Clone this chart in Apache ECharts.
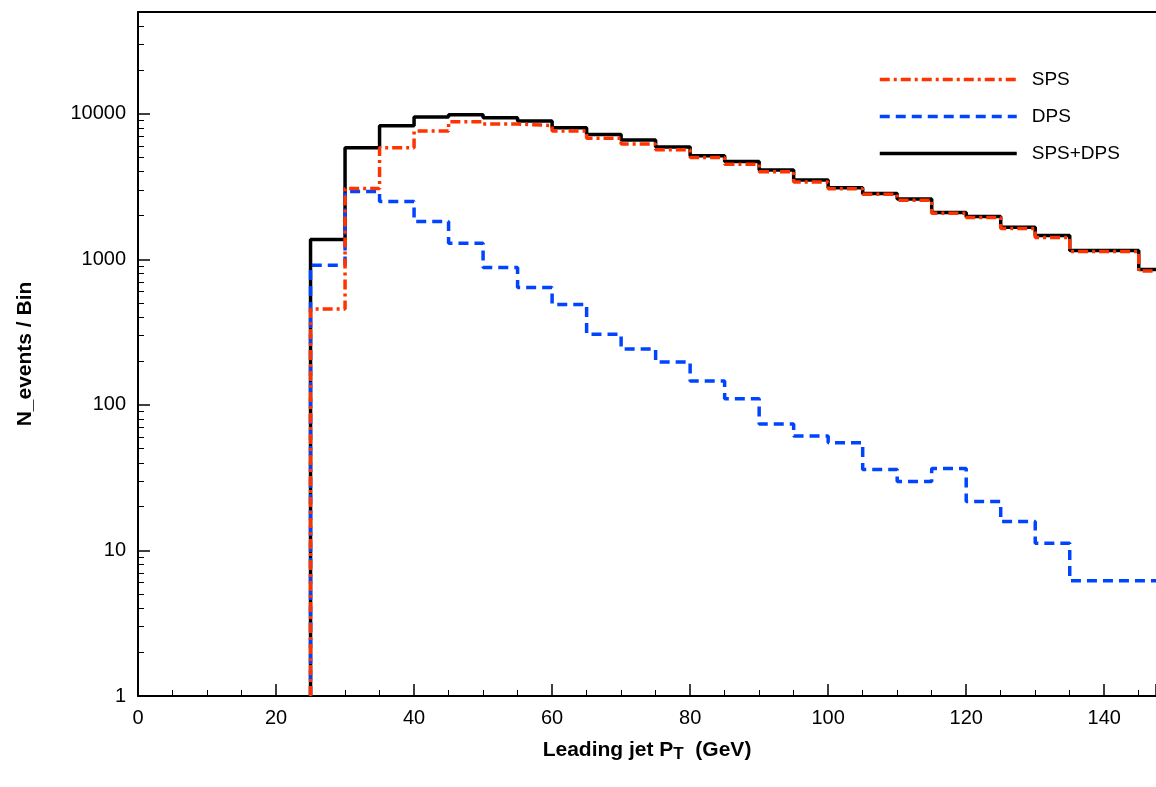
<!DOCTYPE html>
<html><head><meta charset="utf-8">
<script src="https://cdn.jsdelivr.net/npm/echarts@6/dist/echarts.min.js"></script>
<style>html,body{margin:0;background:#fff}#c{width:1156px;height:787px}</style>
</head><body><div id="c"></div>
<script>
// bin edges (GeV), width 5 from 25; last bin cut by the frame
const edges = [25,30,35,40,45,50,55,60,65,70,75,80,85,90,95,100,105,110,115,120,125,130,135,140,145,147.5]
const sps = [455,3060,5850,7600,8800,8500,8300,7600,6800,6200,5650,5000,4500,4000,3400,3050,2800,2550,2070,1940,1630,1410,1130,1130,830]
const dps = [910,2920,2500,1820,1290,880,640,490,306,242,197,146,110,74,61,55,36,29.7,36.5,21.7,15.8,11.2,6.2,6.2,6.2]
const total = [1370,5850,8270,9500,9850,9400,8900,8000,7200,6600,5900,5150,4700,4100,3500,3100,2830,2600,2100,1970,1660,1460,1150,1150,850]
const yTicks = [1,10,100,1000,10000]

function steps(vals){
    let pts=[[edges[0],1]]
    for (let i = 0; i < vals.length; i++) {
        pts.push([edges[i],vals[i]])
        pts.push([edges[i+1],vals[i]])
    }
    return pts
}
const font='Liberation Sans'
let chart=echarts.init(document.getElementById('c'))
chart.setOption({
    animation:false,
    textStyle:{fontFamily:font},
    grid:{left:138,right:0,top:12,bottom:91},
    legend:{
        left:873,top:65,orient:'vertical',itemWidth:137,itemHeight:14,itemGap:18,
        itemStyle:{opacity:0},lineStyle:{width:3.5},
        textStyle:{fontFamily:font,fontSize:19,color:'#000',padding:[0,0,0,10]},
        data:['SPS','DPS','SPS+DPS']
    },
    xAxis:[{
        type:'value',min:0,max:147.5,interval:20,
        name:'Leading jet P{s|T}  (GeV)',nameLocation:'middle',nameGap:42,
        nameTextStyle:{fontFamily:font,fontSize:21,fontWeight:'bold',color:'#000',rich:{s:{fontSize:17,fontWeight:'bold',verticalAlign:'bottom',padding:[8,0,0,0]}}},
        axisLine:{lineStyle:{color:'#000',width:2}},
        axisTick:{inside:true,length:12,lineStyle:{color:'#000',width:1.5}},
        minorTick:{show:true,splitNumber:4,length:6,lineStyle:{color:'#000'}},
        axisLabel:{fontSize:20,color:'#000',margin:12,showMaxLabel:false,formatter:v=>v%20===0?v:''},
        splitLine:{show:false}
    },{
        type:'value',position:'top',min:0,max:147.5,
        axisLine:{lineStyle:{color:'#000',width:2}},axisTick:{show:false},axisLabel:{show:false},splitLine:{show:false}
    }],
    yAxis:{
        type:'log',min:1,max:50000,logBase:10,
        name:'N_events / Bin',nameLocation:'middle',nameGap:102,
        nameTextStyle:{fontFamily:font,fontSize:21,fontWeight:'bold',color:'#000'},
        axisLine:{lineStyle:{color:'#000',width:2}},
        axisTick:{inside:true,length:12,lineStyle:{color:'#000',width:1.5}},
        minorTick:{show:true,splitNumber:9,length:6,lineStyle:{color:'#000'}},
        axisLabel:{fontSize:20,color:'#000',margin:12,formatter:v=>yTicks.includes(Math.round(v))?String(Math.round(v)):''},
        splitLine:{show:false}
    },
    series:[
        {name:'SPS',type:'line',symbol:'none',data:steps(sps),z:3,
         lineStyle:{color:'#ff3300',width:3.5,type:[10,4,3,4]},itemStyle:{color:'#ff3300'}},
        {name:'DPS',type:'line',symbol:'none',data:steps(dps),z:2,
         lineStyle:{color:'#0044ff',width:3.5,type:[10,6]},itemStyle:{color:'#0044ff'}},
        {name:'SPS+DPS',type:'line',symbol:'none',data:steps(total),z:1,
         lineStyle:{color:'#000',width:3.5},itemStyle:{color:'#000'}}
    ]
})
</script></body></html>
